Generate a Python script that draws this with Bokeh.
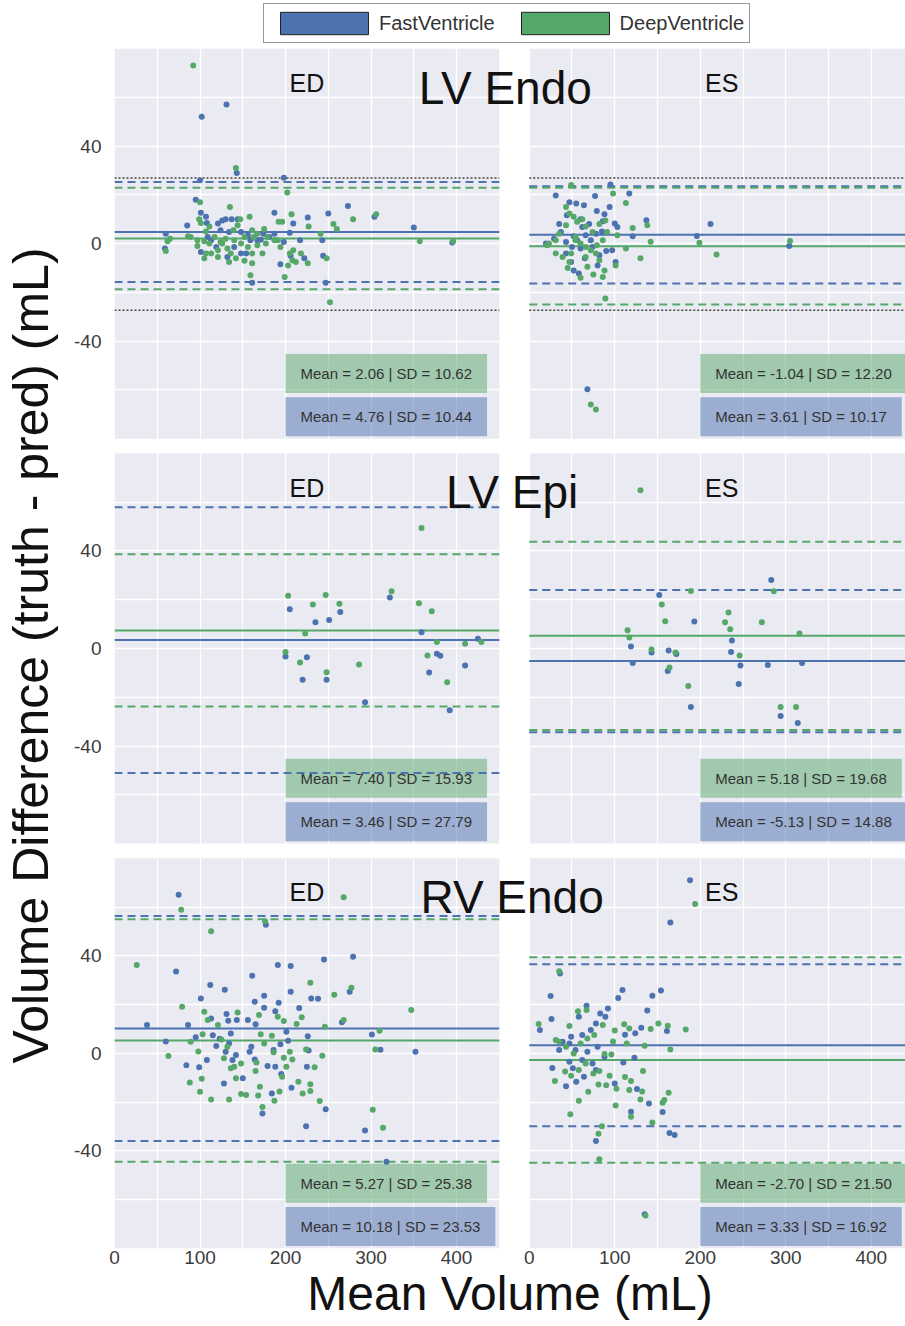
from bokeh.plotting import figure
from bokeh.layouts import column
from bokeh.models import Range1d, FixedTicker, Label, Legend, LegendItem
from bokeh.embed import file_html
from bokeh.resources import INLINE

# ---------------- data ----------------
structures = ["LV Endo", "LV Epi", "RV Endo"]
phases = ["ED", "ES"]
model_names = ["FastVentricle", "DeepVentricle"]

fast_mean = [[4.76, 3.61], [3.46, -5.13], [10.18, 3.33]]
fast_sd = [[10.44, 10.17], [27.79, 14.88], [23.53, 16.92]]
deep_mean = [[2.06, -1.04], [7.40, 5.18], [5.27, -2.70]]
deep_sd = [[10.62, 12.20], [15.93, 19.68], [25.38, 21.50]]
dotted_limits = [[26.9, -27.3], [], []]

x_tick_values = [0, 50, 100, 150, 200, 250, 300, 350, 400]
x_tick_text = {0: "0", 100: "100", 200: "200", 300: "300", 400: "400"}
y_tick_values = [-60, -40, -20, 0, 20, 40, 60]
y_tick_text = {40: "40", 0: "0", -40: "-40"}

# LV Endo ED
lv_endo_ed_fast_x = [102, 131, 143, 100, 198, 95, 273, 304, 187, 226, 209, 250, 350, 395, 85, 60, 59, 101, 108, 109,
                     101, 121, 130, 137, 144, 134, 119, 154, 159, 156, 174, 171, 161, 187, 198, 205, 206, 194, 217, 222,
                     243, 244, 247, 124, 148, 167, 140, 113, 132, 148, 181, 126, 107]
lv_endo_ed_fast_y = [52, 57, 29, 26, 27, 18, 15.4, 11, 12.7, 10.7, 8.2, 12.4, 6.6, 0.5, 7.4, 4, -2, 12.7, 8.5, 2.7,
                     -3.4, 8.2, 10, 10, 10, 4.8, -1.4, -4, 1.4, 3.4, 4, 1.6, -16, 4, 0.7, 4.5, -5, -8.5, 1.4, -6,
                     1.4, -5, -16, 5.5, 4.8, 1.4, -1.4, 1.4, -5.5, -4, 2.7, 9.5, 11]
lv_endo_ed_deep_x = [92, 142, 202, 100, 135, 279, 306, 207, 227, 196, 192, 256, 260, 357, 396, 86, 65, 62, 60, 99,
                     101, 111, 107, 105, 97, 105, 107, 111, 147, 144, 139, 130, 124, 121, 132, 136, 134, 142, 152, 156,
                     148, 163, 161, 158, 167, 175, 177, 167, 173, 161, 159, 199, 191, 194, 205, 209, 208, 203, 212, 226,
                     241, 248, 252, 117, 126, 152, 179, 187, 218, 121, 140, 113, 97, 161, 89]
lv_endo_ed_deep_y = [73, 31, 21, 17, 15, 10, 12, 12, 7, 9, 9, 8, 6, 1, 1, 3, 2, 1, -3, 10,
                     8.5, 7, 5, 1, -1, -6, -4, 0, 10, 7.5, 5.5, 2, 0.7, -5.5, -2, -4, -7.5, -6, -7, -1.4,
                     0, 2.7, 5.5, 11, 4, 6, 0, -0.7, -4, -8, -13, -13.7, 1.4, -1.4, -4, -2.7, -6.8, -9, -7.5, -8,
                     4, -6, -24, 2.7, 0, 2.7, 2.7, 1.4, -4, -2.7, 1.4, -4, 1.4, -4, 2.7]
# LV Endo ES
lv_endo_es_fast_x = [95, 31, 77, 117, 55, 47, 64, 79, 94, 137, 100, 103, 121, 196, 212, 304, 86, 44, 37, 29,
                     19.5, 43, 50, 56, 66, 72, 78, 74, 97, 101, 58, 52, 49, 82, 68, 43, 62,
                     60, 70, 85, 90, 65, 35, 52, 80, 60, 88]
lv_endo_es_fast_y = [24.2, 19.7, 19.5, 20.5, 16.4, 17, 15.7, 13.4, 15, 9.6, 8.3, 6.8, 3, 3.1, 8, -1, 9.2, 11.6, 4.8, 2,
                     0, 0.7, -1.4, 1.4, 3.4, 1.4, 4, -1.4, -2.7, -7.5, -12.3, -11, -7.5, -4.8, -59.7, -4, 6.8,
                     10, 8, 5, -3, -6, 8, 3, -9, -2, 12]
lv_endo_es_deep_x = [49, 98, 113, 138, 142, 121, 130, 199, 219, 305, 89, 72, 78, 43, 47, 52, 56, 62, 66, 43,
                     35, 23, 21, 31, 39, 47, 49, 60, 66, 72, 78, 82, 86, 75, 60, 45, 68, 86, 91, 89,
                     82, 103, 113, 101, 54, 79, 74, 31, 88, 66, 54]
lv_endo_es_deep_y = [24, 20.5, 16.7, 7.5, 0.8, 6.4, -6, 0.4, -4.5, 1.1, -22.5, -66, -68, 15, 12.3, 11, 9, 10, 7, 7.5,
                     4, 0, -0.7, -4, -5.5, -7.5, -4, 0, -1.4, -2.7, -4, -6.8, -13.7, -12.7, -14, -10, -9.5, 1.4, 4.8, 9.5,
                     8, 3.4, -2, -9, 2.7, -0.7, 4.8, 1.4, -11, -5.5, 1.4]
# LV Epi ED
lv_epi_ed_fast_x = [205, 235, 251, 264, 200, 225, 220, 248, 293, 322, 359, 377, 381, 368, 392, 410, 425]
lv_epi_ed_fast_y = [16.1, 10.8, 11.7, 15, -3.3, -3.6, -12.8, -12.8, -22, 20.9, 6.7, -2.2, -3, -9.8, -25.3, -7, 4]
lv_epi_ed_deep_x = [359, 203, 232, 247, 263, 223, 200, 217, 248, 286, 324, 356, 371, 377, 366, 389, 410, 429]
lv_epi_ed_deep_y = [49.4, 21.6, 18, 21.9, 18.3, 6.1, -1.4, -5.7, -9.7, -6.6, 23.5, 18.6, 15.3, 2.7, -2.9, -13.8, 1.9, 2.7]
# LV Epi ES
lv_epi_es_fast_x = [119, 121, 143, 152, 163, 162, 172, 189, 193, 237, 236, 247, 245, 279, 283, 294, 314, 319]
lv_epi_es_fast_y = [0.8, -5.9, -1.6, 21.9, -0.8, -9.2, -2.3, -24, 11.1, 3.3, -1.4, -7, -14.6, -6.8, 28.1, -27.7, -30.5, -5.9]
lv_epi_es_deep_x = [130, 115, 117, 143, 155, 159, 164, 171, 186, 189, 233, 229, 235, 246, 272, 286, 294, 312, 316]
lv_epi_es_deep_y = [64.9, 7.5, 4.5, -0.4, 18, 11.2, -7.8, -1.6, -15.4, 23.6, 14.8, 10.8, 7.9, -2.9, 10.8, 23.5, -24, -24, 6.1]
# RV Endo ED
rv_endo_ed_fast_x = [75, 177, 72, 112, 129, 161, 191, 206, 245, 279, 101, 164, 175, 175, 192, 206, 230, 238, 275, 266,
                     216, 38, 86, 60, 95, 113, 131, 133, 143, 156, 165, 115, 123, 136, 134, 119, 130, 138, 142, 158,
                     160, 164, 188, 201, 194, 186, 179, 188, 195, 203, 226, 227, 225, 207, 184, 173, 224, 247, 293, 318,
                     301, 311, 352, 84, 99, 108, 128, 150]
rv_endo_ed_fast_y = [65, 52.7, 33.6, 28, 26.1, 31.8, 36.2, 35.8, 38.5, 39.6, 22.5, 21.2, 23.6, 18.7, 20.8, 25.3, 22.5, 22.4, 25.3, 12.8,
                     18.6, 11.6, 11.6, 4.9, 6.6, 14.3, 16.1, 13.4, 13.7, 13.7, 11.9, 7.4, 6, 8.2, 4.1, 3, 0.7, -2.7, -0.7, 0.7,
                     2.7, -2.5, 17.3, 8.9, 3.7, 1.4, -5.2, -5.5, -8.5, 5.2, 7, 1.2, -5.5, -14.1, -16.5, -24.6, -29.9, -22.9, -31.6, -44.4,
                     7.7, 1.5, 0.7, -4.9, -5.7, -2.7, -12.3, -10.2]
rv_endo_ed_deep_x = [78, 268, 176, 113, 26, 79, 229, 257, 277, 347, 268, 310, 305, 302, 314, 246, 63, 88, 113, 134,
                     100, 102, 98, 103, 89, 105, 109, 121, 125, 132, 128, 136, 142, 148, 154, 140, 144, 148, 166, 165,
                     170, 168, 173, 171, 175, 169, 184, 186, 198, 201, 196, 193, 187, 191, 198, 205, 208, 213, 219, 215,
                     220, 229, 229, 234, 224, 240, 243]
rv_endo_ed_deep_y = [58.9, 64, 54.2, 50.1, 36.2, 19.1, 29, 24, 26.9, 17.8, 13.7, 9.3, 1.6, -23.1, -30.5, 10.9, -1.1, -11.9, -18.9, -18.9,
                     -15.7, -10.4, 0.8, 7.8, 4.8, 17.1, 13.7, 11.6, 5.7, 2.7, -2, -6.1, -10.2, -16.7, -17.1, -5.5, 16.8, -4.1, -3.7, -7.2,
                     -13.7, -17.3, -22, 7.8, 4.1, 15.7, 7.2, 0.5, -1.8, -5.5, -9.6, -15.6, -19.4, 15, 13.3, 0.7, -2.5, 12, 14.8, -11.6,
                     -16.5, -15.4, -12.7, -5.7, 1.6, -19.5, -1]
# RV Endo ES
rv_endo_es_fast_x = [188, 165, 36, 25, 26, 12.4, 67, 92, 83, 58, 109, 104, 144, 154, 138, 131, 124, 112, 161, 89,
                     78, 72, 62, 49, 39, 35, 47, 54, 68, 80, 88, 74, 62, 47, 27, 51, 55, 43, 64, 78,
                     100, 110, 123, 126, 119, 140, 156, 164, 170, 78, 135]
rv_endo_es_fast_y = [71, 53.7, 32.8, 23.5, 14.1, 9.6, 19.5, 18.4, 16.4, 15, 26, 22.7, 23.6, 25.8, 17.6, 10.5, 8.3, 7.6, 9.2, 15,
                     12.3, 9.6, 7.5, 6.8, 4.8, 1.4, 4.1, 1.4, 0.7, 2.7, -1.4, -4.1, -2.7, -3.4, -6, -6.1, -11.6, -13.5, -9.6, -6.8,
                     -12.3, -3.7, -1.8, -14.6, -23.9, -20.6, -24, -32.6, -33.5, -35.9, -66]
rv_endo_es_deep_x = [194, 35, 11, 67, 57, 47, 35, 31, 43, 52, 60, 68, 76, 86, 100, 111, 117, 98, 114, 96,
                     88, 135, 142, 151, 162, 165, 183, 42, 30, 49, 58, 66, 75, 82, 90, 69, 58, 81, 94, 101,
                     102, 112, 119, 117, 130, 133, 132, 119, 144, 156, 158, 163, 48, 85, 81, 82, 136]
rv_endo_es_deep_y = [61.2, 33.7, 12, 17.8, 17.3, 11.2, 4.8, 5.5, 2.7, 0, 4.1, 6.1, 7.5, 11.6, 9.4, 11.9, 10.2, 4.9, 4.1, -0.5,
                     -0.3, 3.1, 10, 12.3, 11.3, 1.6, 9.8, -7.4, -11.3, -9.2, -6.8, -4.1, -8.2, -7.2, -13.1, -15.7, -19.4, -12.8, -9.2, -21.4,
                     -14.5, -9.7, -11.3, -15, -18.9, -7.2, -15.6, -26, -28.3, -20.2, -19.1, -16.1, -25, -29.9, -33, -43.4, -66.5]

points = [
    [(lv_endo_ed_fast_x, lv_endo_ed_fast_y, lv_endo_ed_deep_x, lv_endo_ed_deep_y),
     (lv_endo_es_fast_x, lv_endo_es_fast_y, lv_endo_es_deep_x, lv_endo_es_deep_y)],
    [(lv_epi_ed_fast_x, lv_epi_ed_fast_y, lv_epi_ed_deep_x, lv_epi_ed_deep_y),
     (lv_epi_es_fast_x, lv_epi_es_fast_y, lv_epi_es_deep_x, lv_epi_es_deep_y)],
    [(rv_endo_ed_fast_x, rv_endo_ed_fast_y, rv_endo_ed_deep_x, rv_endo_ed_deep_y),
     (rv_endo_es_fast_x, rv_endo_es_fast_y, rv_endo_es_deep_x, rv_endo_es_deep_y)],
]

# ---------------- style / layout ----------------
BLUE = "#4C72B0"
GREEN = "#55A868"
PANEL_BG = "#EAEAF2"
FONT = "Liberation Sans"
TXT = "#333333"

W = 905
LEG_H = 48
MAIN_H = 1326 - LEG_H
FRAME_LEFT = 113
COL_SPAN, COL_GAP, COL_LAST = 450, 35, 440
ROW_HALF, ROW_GAP = 80, 6
col_off = [0, COL_SPAN + COL_GAP]
x_total = col_off[1] + COL_LAST
row_off = [2 * (2 * ROW_HALF + ROW_GAP), 2 * ROW_HALF + ROW_GAP, 0]
y_top = 2 * (2 * ROW_HALF + ROW_GAP) + ROW_HALF

xr_names = ["default", "c1"]
yr_names = ["r0", "r1", "default"]

p = figure(width=W, height=MAIN_H, output_backend="svg", toolbar_location=None,
           x_range=Range1d(0, x_total), y_range=Range1d(-ROW_HALF, y_top),
           min_border_left=FRAME_LEFT, min_border_right=0, min_border_top=0, min_border_bottom=78,
           background_fill_color="white", border_fill_color="white", outline_line_color=None)
p.extra_x_ranges = {"c1": Range1d(-col_off[1], x_total - col_off[1])}
p.extra_y_ranges = {"r0": Range1d(-ROW_HALF - row_off[0], y_top - row_off[0]),
                    "r1": Range1d(-ROW_HALF - row_off[1], y_top - row_off[1])}

# ticks (bottom axis covers both columns, left axis covers three rows)
xt_vals, xt_over = [], {}
for off in col_off:
    for t in x_tick_values:
        xt_vals.append(off + t)
        xt_over[off + t] = x_tick_text.get(t, "")
yt_vals, yt_over = [], {}
for off in row_off:
    for t in y_tick_values:
        yt_vals.append(off + t)
        yt_over[off + t] = y_tick_text.get(t, "")
xticker = FixedTicker(ticks=xt_vals, minor_ticks=[])
yticker = FixedTicker(ticks=yt_vals, minor_ticks=[])

for ax, tk, ov, so in ((p.xaxis, xticker, xt_over, 2), (p.yaxis, yticker, yt_over, 13)):
    ax.ticker = tk
    ax.major_label_overrides = ov
    ax.axis_line_color = None
    ax.major_tick_line_color = None
    ax.minor_tick_line_color = None
    ax.major_tick_out = 0
    ax.major_tick_in = 0
    ax.major_label_standoff = so
    ax.major_label_text_font = FONT
    ax.major_label_text_font_size = "19px"
    ax.major_label_text_color = "#3c3c3c"
    ax.axis_label_text_font = FONT
    ax.axis_label_text_font_style = "normal"
    ax.axis_label_text_color = "#111111"
p.xaxis.axis_label = "Mean Volume (mL)"
p.xaxis.axis_label_text_font_size = "48px"
p.xaxis.axis_label_standoff = 0
p.yaxis.axis_label = "Volume Difference  (truth - pred) (mL)"
p.yaxis.axis_label_text_font_size = "50px"
p.yaxis.axis_label_standoff = 12

p.xgrid.ticker = xticker
p.ygrid.ticker = yticker
for g in (p.xgrid, p.ygrid):
    g.grid_line_color = "white"
    g.grid_line_width = 1.3

for i in range(3):
    yr = yr_names[i]
    for j in range(2):
        xr = xr_names[j]
        # panel background
        p.quad(left=[0], right=[COL_SPAN], bottom=[-ROW_HALF], top=[ROW_HALF],
               fill_color=PANEL_BG, line_color=None, level="image",
               x_range_name=xr, y_range_name=yr)
        fx, fy, dx, dy = points[i][j]
        if dotted_limits[i]:
            lim = dotted_limits[i]
            p.segment(x0=[0] * len(lim), x1=[COL_SPAN] * len(lim), y0=lim, y1=lim,
                      line_color="#444444", line_width=1.6, line_dash="2 2",
                      x_range_name=xr, y_range_name=yr)
        for mean, sd, color in ((fast_mean[i][j], fast_sd[i][j], BLUE),
                                (deep_mean[i][j], deep_sd[i][j], GREEN)):
            lo, hi = mean - 1.96 * sd, mean + 1.96 * sd
            p.segment(x0=[0, 0], x1=[COL_SPAN, COL_SPAN], y0=[hi, lo], y1=[hi, lo],
                      line_color=color, line_width=2, line_dash="8 5",
                      x_range_name=xr, y_range_name=yr)
            p.segment(x0=[0], x1=[COL_SPAN], y0=[mean], y1=[mean],
                      line_color=color, line_width=2,
                      x_range_name=xr, y_range_name=yr)
        p.scatter(fx, fy, size=6, fill_color=BLUE, line_color=None,
                  x_range_name=xr, y_range_name=yr)
        p.scatter(dx, dy, size=6, fill_color=GREEN, line_color=None,
                  x_range_name=xr, y_range_name=yr)
        # stats boxes
        for mean, sd, color, yb in ((deep_mean[i][j], deep_sd[i][j], GREEN, -61.2),
                                    (fast_mean[i][j], fast_sd[i][j], BLUE, -79)):
            p.add_layout(Label(x=200, y=yb, x_range_name=xr, y_range_name=yr,
                               text=f"Mean = {mean:.2f} | SD = {sd:.2f}",
                               text_align="left", text_baseline="bottom",
                               text_font=FONT, text_font_size="15px", text_color=TXT,
                               background_fill_color=color, background_fill_alpha=0.5,
                               padding=(15, 11), level="underlay"))
        # phase label
        p.add_layout(Label(x=225, y=66, x_range_name=xr, y_range_name=yr, text=phases[j],
                           text_align="center", text_baseline="alphabetic",
                           text_font=FONT, text_font_size="25px", text_color="#111111"))

title_x = [457, 465, 465]
for i in range(3):
    p.add_layout(Label(x=title_x[i], y=64, y_range_name=yr_names[i], text=structures[i],
                       text_align="center", text_baseline="alphabetic",
                       text_font=FONT, text_font_size="46px", text_color="#111111"))

# ---------------- legend strip ----------------
lg = figure(width=W, height=LEG_H, output_backend="svg", toolbar_location=None,
            x_axis_type=None, y_axis_type=None, x_range=Range1d(0, 1), y_range=Range1d(0, 1),
            min_border=0, outline_line_color=None,
            background_fill_color="white", border_fill_color="white")
r_fast = lg.quad(left=[0], right=[1], bottom=[0], top=[1], fill_color=BLUE,
                 line_color="#222222", line_width=1, visible=False)
r_deep = lg.quad(left=[0], right=[1], bottom=[0], top=[1], fill_color=GREEN,
                 line_color="#222222", line_width=1, visible=False)
legend = Legend(items=[LegendItem(label=model_names[0], renderers=[r_fast]),
                       LegendItem(label=model_names[1], renderers=[r_deep])],
                orientation="horizontal", location=(262 - FRAME_LEFT, 5),
                glyph_width=110, glyph_height=28, label_standoff=0, spacing=15,
                padding=5, margin=0, inactive_fill_alpha=0.0,
                label_text_font=FONT, label_text_font_size="20px", label_text_color=TXT,
                border_line_color="#333333", border_line_width=1,
                background_fill_color="white", background_fill_alpha=1.0)
lg.add_layout(legend, "center")

layout = column(lg, p, spacing=0)
open("out.html", "w").write(file_html(layout, INLINE))
